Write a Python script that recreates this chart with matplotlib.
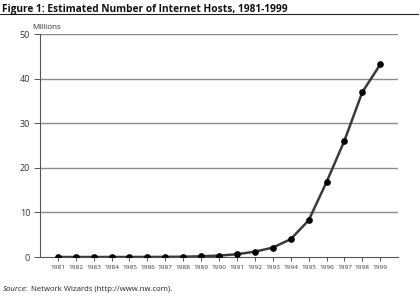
import matplotlib
matplotlib.use("Agg")
import matplotlib.pyplot as plt

years = list(range(1981, 2000))
hosts = [0.0002, 0.0002, 0.0006, 0.001, 0.002, 0.005, 0.028, 0.056, 0.16, 0.31,
         0.62, 1.2, 2.1, 4.0, 8.2, 16.8, 26.1, 37.0, 43.2]
yticks = [0, 10, 20, 30, 40, 50]

plt.rcParams['font.family'] = ['Open Sans', 'DejaVu Sans']

fig = plt.figure(figsize=(4.2, 3.04), dpi=100)
ax = fig.add_axes([0.095, 0.1546, 0.853, 0.733])

for yv in yticks[1:]:
    ax.axhline(yv, color='#8a8a8a', lw=1.0, zorder=1)

ax.plot(years, hosts, color='#3a3a3a', lw=1.8, zorder=2)
ax.plot(years, hosts, 'o', color='black', ms=3.8, zorder=3)

ax.set_xlim(1980, 2000)
ax.set_ylim(0, 50)
ax.set_xticks(years)
ax.set_xticklabels([str(y) for y in years], fontsize=4.6, color='#333333')
ax.set_yticks(yticks)
ax.set_yticklabels([str(v) for v in yticks], fontsize=6.5, color='#333333')
ax.tick_params(axis='x', length=3, width=0.7, color='#555555', pad=3, direction='out')
ax.tick_params(axis='y', length=4, width=0.7, color='#555555', pad=3, direction='out')

for s in ['top', 'right']:
    ax.spines[s].set_visible(False)
ax.spines['left'].set_color('#555555')
ax.spines['left'].set_linewidth(0.8)
ax.spines['bottom'].set_color('#555555')
ax.spines['bottom'].set_linewidth(0.8)

fig.text(0.005, 0.988, 'Figure 1: Estimated Number of Internet Hosts, 1981-1999',
         fontsize=7.3, fontweight='bold', ha='left', va='top', color='#111111')
fig.add_artist(plt.Line2D([0.0, 0.995], [0.953, 0.953], transform=fig.transFigure,
                          color='#222222', lw=0.8))
fig.text(0.076, 0.908, 'Millions', fontsize=5.8, ha='left', va='center', color='#333333')
fig.text(0.007, 0.049, 'Source:', fontsize=5.7, style='italic', ha='left', va='center', color='#222222')
fig.text(0.074, 0.049, 'Network Wizards (http://www.nw.com).', fontsize=5.6, ha='left', va='center', color='#222222')

fig.savefig('out.png', dpi=100)
